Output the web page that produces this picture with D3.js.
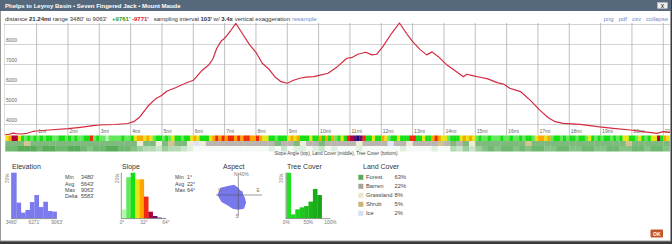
<!DOCTYPE html>
<html>
<head>
<meta charset="utf-8">
<script src="https://cdn.jsdelivr.net/npm/d3@7"></script>
<style>
    body { margin: 0; background: #3a3a3a; }
    svg { display: block; font-family: 'Liberation Sans', Arial, sans-serif; }
</style>
</head>
<body>
<svg id="chart"></svg>
<script>
// profile (miles, feet)
const profileMiles = [0, 0.1, 0.25, 0.35, 0.5, 0.7, 0.9, 1.0, 1.4, 2.0, 2.4, 2.8, 3.0, 3.5, 3.9, 4.1, 4.3, 4.55, 4.8, 5.0,
    5.15, 5.45, 5.75, 6.0, 6.25, 6.5, 6.62, 6.75, 6.9, 7.0, 7.2, 7.36, 7.6, 7.8, 8.0, 8.2, 8.4, 8.6, 8.8, 9.0,
    9.2, 9.4, 9.6, 9.85, 10.05, 10.3, 10.6, 10.9, 11.05, 11.25, 11.5, 11.7, 11.85, 12.05, 12.33, 12.58, 12.8, 13.0, 13.25, 13.45,
    13.62, 13.82, 14.1, 14.4, 14.62, 14.73, 14.95, 15.15, 15.4, 15.7, 15.9, 16.1, 16.45, 16.75, 17.05, 17.33, 17.55, 17.8, 18.35, 18.9,
    19.4, 19.95, 20.35, 20.8, 21.0, 21.24];
const profileFeet = [3480, 3490, 3560, 3530, 3515, 3550, 3650, 3665, 3715, 3780, 3850, 3930, 3965, 3990, 4040, 4130, 4380, 4900, 5280, 5450,
    5650, 5840, 6050, 6200, 6650, 6980, 7250, 7800, 8180, 8300, 8700, 9040, 8450, 7970, 7600, 7050, 6780, 6380, 6130, 6050,
    6200, 6300, 6360, 6380, 6460, 6550, 6880, 7300, 7330, 7500, 7600, 7470, 7500, 7880, 8550, 9063, 8550, 8130, 7720, 7470,
    7620, 7380, 6960, 6630, 6380, 6500, 6420, 6350, 6270, 6080, 6010, 5800, 5630, 5210, 4720, 4330, 4130, 4050, 4000, 3880,
    3800, 3715, 3630, 3550, 3630, 3590];

const yTicks = [4000, 5000, 6000, 7000, 8000];
const mileTicks = d3.range(1, 22);

// slope class per 0.1 mi (index into slopeColors)
const slopeStrip = '3466321212' + '1212211221' + '2121122512' + '1101111211' + '2344343122' +
    '1213221223' + '4322234545' + '4554545544' + '5433221222' + '3434222322' +
    '4242412325' + '6787522322' + '4312232225' + '5223224543' + '3122234343' +
    '1211211121' + '1211212213' + '4434122121' + '2212213212' + '1221212332' +
    '2132123362' + '433';
// land cover per 0.2 mi
const landStrip = 'FFFSFFFFFFFFFFFFFFFF' + 'FGFFGFSFF' + 'GIG' + 'BBBBBBBBBB' + 'BFBBFGBBFBB' +
    'BBBGBBBBIBBGBBBBSB' + 'FBFGF' + 'FFFFFFFSFFFFFFFFFFFFFFFSFFFFFFF';
// tree cover per 0.2 mi (tens of %)
const treeStrip = '66777677667765667766' + '543324332' + '100' + '0000000000' + '10201101201' +
    '000100000010000100' + '32424' + '5656656566556655665566556656655';

const elevHist = [30, 10.3, 3.7, 5.5, 10.7, 15.3, 7.4, 10.9, 4.8, 4.4];
const elevStats = [['Min', "3480'"], ['Avg', "5643'"], ['Max', "9063'"], ['Delta', "5583'"]];
const slopeHist = [3.9, 18, 20, 17.1, 17.1, 9.5, 2.9, 1.0, 0.3, 0.1];
const slopeStats = [['Min', '1°'], ['Avg', '22°'], ['Max', '64°']];
const aspectDirs = d3.range(16).map(i => i * 22.5);
const aspectPct = [13, 9, 10, 9, 9, 13, 20, 27, 27, 27, 27, 33, 38, 35, 24, 20];
const treeHist = [30, 2.6, 5.9, 7.2, 8.1, 11, 19.3, 15.3, 0, 0];
const landNames = ['Forest', 'Barren', 'Grassland', 'Shrub', 'Ice'];
const landKeys = ['F', 'B', 'G', 'S', 'I'];
const landPct = [63, 22, 8, 5, 2];

// styles
const slopeColors = ['#b4f5b0', '#62e85a', '#14e014', '#e6e617', '#ffa500', '#f02a0a', '#b3003c', '#6a0a6a', '#1a0a7a', '#000040'];
const landColors = ['#5ea85e', '#aaa39b', '#ebe7cc', '#c9b476', '#d6dcf4'];

const svg = d3.select('#chart').attr('width', 672).attr('height', 244);

svg.append('rect').attr('width', 672).attr('height', 244).attr('fill', '#3a3a3a');
svg.append('rect')
    .attr('x', 0.5).attr('y', 0.5).attr('width', 670).attr('height', 240.5)
    .attr('fill', '#fff').attr('stroke', '#9a9a9a');

// title bar
svg.append('rect').attr('x', 0).attr('y', 0).attr('width', 671).attr('height', 11).attr('fill', '#56697c');
svg.append('text')
    .attr('x', 5).attr('y', 8)
    .attr('fill', '#fff').attr('font-size', '6px').attr('font-weight', 'bold')
    .text('Phelps to Leyroy Basin • Seven Fingered Jack • Mount Maude');
svg.append('rect')
    .attr('x', 657.5).attr('y', 2.5).attr('width', 10).attr('height', 6)
    .attr('fill', '#eee').attr('stroke', '#bbb').attr('stroke-width', 0.5);
svg.append('text')
    .attr('x', 662.5).attr('y', 7.6).attr('text-anchor', 'middle')
    .attr('font-size', '5px').attr('font-weight', 'bold').attr('fill', '#444')
    .text('X');

// info line
const info = svg.append('text').attr('x', 5).attr('y', 20.5).attr('font-size', '6px').attr('fill', '#333');
[
    ['distance ', null, null], ['21.24mi', 'bold', null], [" range 3480' to 9063'   ", null, null],
    ["+9761'", 'bold', '#2a9a2a'], [' ', null, null], ["-9771'", 'bold', '#d42020'],
    ['   sampling interval ', null, null], ["103'", 'bold', null], [' w/ ', null, null],
    ['3.4x', 'bold', null], [' vertical exaggeration', null, null],
].forEach(([t, w, c]) => {
    info.append('tspan')
        .attr('font-weight', w || 'normal')
        .attr('fill', c || '#333')
        .attr('xml:space', 'preserve')
        .text(t);
});
svg.append('text')
    .attr('x', 292).attr('y', 20.5).attr('font-size', '6px').attr('fill', '#6b8bc9')
    .text('resample');
svg.append('text')
    .attr('x', 668).attr('y', 20.5).attr('font-size', '6px').attr('fill', '#6b8bc9')
    .attr('text-anchor', 'end').attr('xml:space', 'preserve')
    .text('png   pdf   csv   collapse');

// profile chart
const xScale = d3.scaleLinear().domain([0, 21.24]).range([5.3, 670.8]);
const yScale = d3.scaleLinear().domain([3480, 9063]).range([134.7, 23]);

svg.append('clipPath').attr('id', 'plotClip')
    .append('rect').attr('x', 4).attr('y', 22).attr('width', 666).attr('height', 135);
const plot = svg.append('g').attr('clip-path', 'url(#plotClip)');

plot.selectAll('line.h')
    .data(yTicks.concat([9000]))
    .join('line')
    .attr('class', 'h')
    .attr('x1', 4).attr('x2', 670)
    .attr('y1', d => Math.round(yScale(d)) + 0.5).attr('y2', d => Math.round(yScale(d)) + 0.5)
    .attr('stroke', '#c8c8c8').attr('stroke-width', 0.8);

plot.selectAll('line.v')
    .data(mileTicks)
    .join('line')
    .attr('class', 'v')
    .attr('x1', d => xScale(d)).attr('x2', d => xScale(d))
    .attr('y1', 23).attr('y2', 135.5)
    .attr('stroke', '#b0b0b0').attr('stroke-width', 0.8);

plot.append('line')
    .attr('x1', 4).attr('x2', 4).attr('y1', 23).attr('y2', 135.5)
    .attr('stroke', '#b0b0b0').attr('stroke-width', 0.8);

plot.selectAll('text.ylab')
    .data(yTicks)
    .join('text')
    .attr('class', 'ylab')
    .attr('x', 6).attr('y', d => yScale(d) - 2.4)
    .attr('font-size', '5px').attr('fill', '#666')
    .text(d => d);

plot.selectAll('text.xlab')
    .data(mileTicks)
    .join('text')
    .attr('class', 'xlab')
    .attr('x', d => xScale(d) + 1.5).attr('y', 133.2)
    .attr('font-size', '5px').attr('fill', '#666')
    .text(d => d === 21 ? '21' : d + 'mi');

plot.append('path')
    .datum(profileMiles.map((m, i) => [m, profileFeet[i]]))
    .attr('fill', 'none')
    .attr('stroke', '#d42a3f')
    .attr('stroke-width', 1.2)
    .attr('stroke-linejoin', 'round')
    .attr('d', d3.line().x(d => xScale(d[0])).y(d => yScale(d[1])));

// strips under the profile
const stripCells = (str, step, y0, h, color) => {
    plot.append('g')
        .selectAll('rect')
        .data(str.split(''))
        .join('rect')
        .attr('x', (d, i) => xScale(i * step))
        .attr('width', (d, i) => xScale(Math.min((i + 1) * step, 21.24)) - xScale(i * step) + 0.3)
        .attr('y', y0).attr('height', h)
        .attr('fill', color);
};
stripCells(slopeStrip, 0.1, 135.5, 5.5, d => slopeColors[+d]);
const landColor = d3.scaleOrdinal().domain(landKeys).range(landColors);
stripCells(landStrip, 0.2, 141, 5, d => d3.interpolateRgb(landColor(d), '#ffffff')(0.2));
const treeColor = d3.scaleLinear().domain([0, 7]).range(['#f6faf6', '#58ad58']);
stripCells(treeStrip, 0.2, 146, 5.5, d => treeColor(+d));

svg.append('text')
    .attr('x', 336).attr('y', 155.2).attr('text-anchor', 'middle')
    .attr('font-size', '4.6px').attr('fill', '#444')
    .text('Slope Angle (top), Land Cover (middle), Tree Cover (bottom)');

// small histograms
const titleY = 168.6;
const histBottom = 218.3;
const histTop = 172.7;

function histogram(values, x0, x1, nBins, maxPct, color, tickLabels, yLabel, labelX) {
    const g = svg.append('g');
    const hx = d3.scaleLinear().domain([0, nBins]).range([x0, x1]);
    const hy = d3.scaleLinear().domain([0, maxPct]).range([histBottom, histTop]);
    g.selectAll('rect')
        .data(values)
        .join('rect')
        .attr('x', (d, i) => hx(i))
        .attr('width', (d, i) => hx(i + 1) - hx(i) + 0.2)
        .attr('y', d => hy(d))
        .attr('height', d => histBottom - hy(d))
        .attr('fill', color);
    g.append('line')
        .attr('x1', x0 - 0.5).attr('x2', x0 - 0.5)
        .attr('y1', histTop).attr('y2', histBottom + 0.5)
        .attr('stroke', '#555').attr('stroke-width', 0.6);
    g.append('line')
        .attr('x1', x0 - 0.5).attr('x2', tickLabels[tickLabels.length - 1][0])
        .attr('y1', histBottom + 0.3).attr('y2', histBottom + 0.3)
        .attr('stroke', '#555').attr('stroke-width', 0.6);
    g.selectAll('text.tick')
        .data(tickLabels)
        .join('text')
        .attr('class', 'tick')
        .attr('x', d => d[0]).attr('y', 224)
        .attr('text-anchor', 'middle')
        .attr('font-size', '4.8px').attr('fill', '#777')
        .text(d => d[1]);
    g.append('text')
        .attr('transform', `translate(${labelX},${histTop + 1}) rotate(-90)`)
        .attr('text-anchor', 'end')
        .attr('font-size', '4.6px').attr('fill', '#777')
        .text(yLabel);
}

function title(x, t) {
    svg.append('text')
        .attr('x', x).attr('y', titleY)
        .attr('font-size', '7px').attr('fill', '#333')
        .text(t);
}

function stats(rows, xl, xv) {
    const g = svg.append('g').attr('font-size', '5.4px').attr('fill', '#444');
    g.selectAll('text.l')
        .data(rows)
        .join('text')
        .attr('class', 'l')
        .attr('x', xl).attr('y', (d, i) => 179.3 + i * 6.35)
        .text(d => d[0]);
    g.selectAll('text.v')
        .data(rows)
        .join('text')
        .attr('class', 'v')
        .attr('x', xv).attr('y', (d, i) => 179.3 + i * 6.35)
        .text(d => d[1]);
}

// elevation
title(12, 'Elevation');
histogram(elevHist, 12, 56.7, 10, 30, '#7b7bee',
    [[11.5, "3480'"], [34.3, "6271'"], [57, "9063'"]], '30%', 9.3);
stats(elevStats, 65, 81);

// slope
title(122, 'Slope');
histogram(slopeHist, 121.8, 166, 10, 20, (d, i) => slopeColors[i],
    [[122, '0°'], [144, '32°'], [166, '64°']], '20%', 118.8);
stats(slopeStats, 175, 187);

// aspect rose
title(223, 'Aspect');
const cx = 238.3, cy = 195;
const rScale = d3.scaleLinear().domain([0, 40]).range([0, 22]);
svg.append('path')
    .datum(aspectPct.map((p, i) => [aspectDirs[i] * Math.PI / 180, rScale(p)]))
    .attr('transform', `translate(${cx},${cy})`)
    .attr('fill', '#7777ee')
    .attr('d', d3.lineRadial().angle(d => d[0]).radius(d => d[1]).curve(d3.curveLinearClosed));
svg.append('line')
    .attr('x1', 216).attr('x2', 262).attr('y1', cy).attr('y2', cy)
    .attr('stroke', '#555').attr('stroke-width', 0.6);
svg.append('line')
    .attr('x1', cx).attr('x2', cx).attr('y1', 173).attr('y2', 216)
    .attr('stroke', '#555').attr('stroke-width', 0.6);
const compass = svg.append('g').attr('font-size', '4.8px').attr('fill', '#777');
compass.append('text').attr('x', cx - 0.8).attr('y', 176).attr('text-anchor', 'end').text('N');
compass.append('text').attr('x', cx + 0.8).attr('y', 176).text('40%');
compass.append('text').attr('x', 218).attr('y', 192).text('W');
compass.append('text').attr('x', 256.5).attr('y', 192).text('E');
compass.append('text').attr('x', 235.5).attr('y', 217.5).text('S');

// tree cover
title(287, 'Tree Cover');
const treeGreen = d3.scaleLinear().domain([0, 9]).range(['#22e022', '#149414']);
histogram(treeHist, 286.5, 330.5, 10, 30, (d, i) => treeGreen(i),
    [[286.3, '0%'], [308.3, '50%'], [330.5, '100%']], '30%', 283);

// land cover legend
title(363, 'Land Cover');
const legend = svg.append('g').attr('font-size', '5.8px').attr('fill', '#444');
legend.selectAll('rect')
    .data(landNames)
    .join('rect')
    .attr('x', 358.3).attr('y', (d, i) => 174.8 + i * 9)
    .attr('width', 5).attr('height', 5)
    .attr('fill', (d, i) => landColors[i]);
legend.selectAll('text.n')
    .data(landNames)
    .join('text')
    .attr('class', 'n')
    .attr('x', 366).attr('y', (d, i) => 179.4 + i * 9)
    .text(d => d);
legend.selectAll('text.p')
    .data(landPct)
    .join('text')
    .attr('class', 'p')
    .attr('x', 394.5).attr('y', (d, i) => 179.4 + i * 9)
    .text(d => d + '%');

// OK button
svg.append('rect')
    .attr('x', 650.5).attr('y', 229.5).attr('width', 12.5).attr('height', 8)
    .attr('rx', 1).attr('fill', '#c2562a');
svg.append('text')
    .attr('x', 656.8).attr('y', 235.6).attr('text-anchor', 'middle')
    .attr('font-size', '5px').attr('font-weight', 'bold').attr('fill', '#fff')
    .text('OK');
</script>
</body>
</html>
